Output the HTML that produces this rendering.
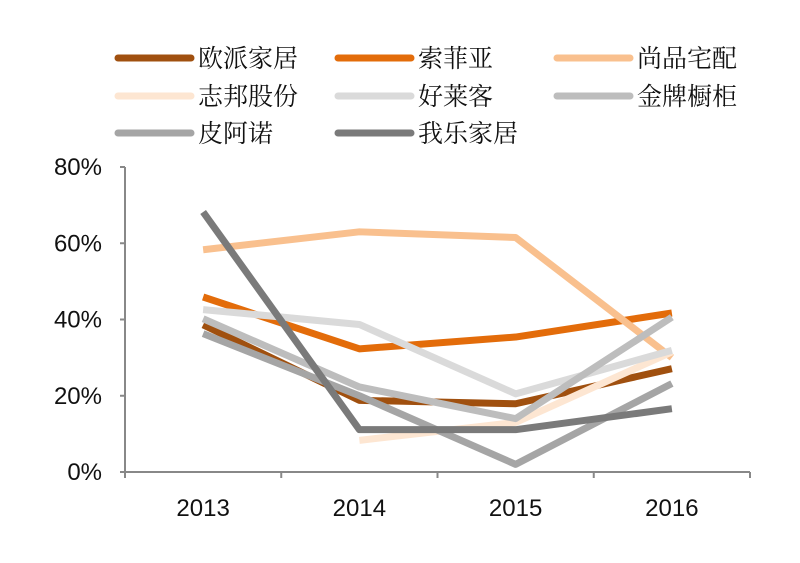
<!DOCTYPE html>
<html><head><meta charset="utf-8"><style>
body{margin:0;background:#fff;}
svg{display:block;}
.lg{font-family:"Noto Serif CJK SC","Liberation Serif",serif;font-size:25px;fill:#111;}
.tk{font-family:"Liberation Sans","Noto Sans CJK SC",sans-serif;font-size:24px;fill:#111;}
</style></head><body>
<svg id="c" width="800" height="563" viewBox="0 0 800 563"></svg>
<script>
const categories=["2013","2014","2015","2016"];
const seriesNames=["欧派家居","索菲亚","尚品宅配","志邦股份","好莱客","金牌橱柜","皮阿诺","我乐家居"];
const oppein=[38.6,18.8,17.9,27.1];
const sofia=[45.9,32.3,35.4,41.7];
const shangpin=[58.3,63.0,61.5,30.0];
const zbom=[null,8.3,13.0,31.5];
const holike=[42.6,38.7,20.5,31.9];
const goldenHome=[40.2,22.3,14.0,40.6];
const piano=[36.3,20.0,2.0,23.2];
const wole=[68.2,11.1,11.1,16.6];
const yTicks=[0,20,40,60,80];
const yTickLabels=["0%","20%","40%","60%","80%"];
const seriesData=[oppein,sofia,shangpin,zbom,holike,goldenHome,piano,wole];
const colors=["#a0500f","#e36c0a","#f9c08e","#fde6d2","#dadada","#bdbdbd","#a5a5a5","#7a7a7a"];
const NS="http://www.w3.org/2000/svg";
const svg=document.getElementById('c');
const X0=125,X1=750,Y0=472,Y1=167;
const band=(X1-X0)/categories.length;
function x(i){return X0+band*(i+0.5);}
function y(v){return Y0-(v/80)*(Y0-Y1);}
function mk(t,a){const e=document.createElementNS(NS,t);for(const k in a)e.setAttribute(k,a[k]);svg.appendChild(e);return e;}
let ax=mk('line',{x1:X0,y1:Y1,x2:X0,y2:Y0,stroke:'#888','stroke-width':2});


let bx=mk('line',{x1:X0,y1:Y0,x2:X1,y2:Y0,stroke:'#888','stroke-width':2});


yTicks.forEach((t,i)=>{
  let tk=mk('line',{x1:X0-5,y1:y(t),x2:X0,y2:y(t),stroke:'#888','stroke-width':2});
  
  
  let l=mk('text',{x:X0-23,y:y(t)+8,'text-anchor':'end',class:'tk'});
  l.textContent=yTickLabels[i];
  
  
});
for(let i=0;i<=categories.length;i++){
  let tk=mk('line',{x1:X0+band*i,y1:Y0,x2:X0+band*i,y2:Y0+6,stroke:'#888','stroke-width':2});
  
  
}
categories.forEach((c,i)=>{
  let l=mk('text',{x:x(i),y:516,'text-anchor':'middle',class:'tk'});
  l.textContent=c;
  
  
});
seriesData.forEach((d,s)=>{
  let pts=[];d.forEach((v,i)=>{if(v!==null)pts.push(x(i)+','+y(v));});
  let p=mk('polyline',{points:pts.join(' '),fill:'none',stroke:colors[s],'stroke-width':7,'stroke-linejoin':'round'});
  
  
});
const lgX=[118,338,557],lgY=[58,96,133];
seriesNames.forEach((n,s)=>{
  const cx=lgX[s%3],cy=lgY[Math.floor(s/3)];
  let g=mk('g',{});
  
  
  let ln=document.createElementNS(NS,'line');
  [['x1',cx],['y1',cy],['x2',cx+73],['y2',cy],['stroke',colors[s]],['stroke-width',7],['stroke-linecap','round']].forEach(a=>ln.setAttribute(a[0],a[1]));
  
  
  g.appendChild(ln);
  let t=document.createElementNS(NS,'text');
  t.setAttribute('x',cx+80);t.setAttribute('y',cy+9);t.setAttribute('class','lg');
  t.textContent=n;
  
  
  g.appendChild(t);
});
</script>
</body></html>
